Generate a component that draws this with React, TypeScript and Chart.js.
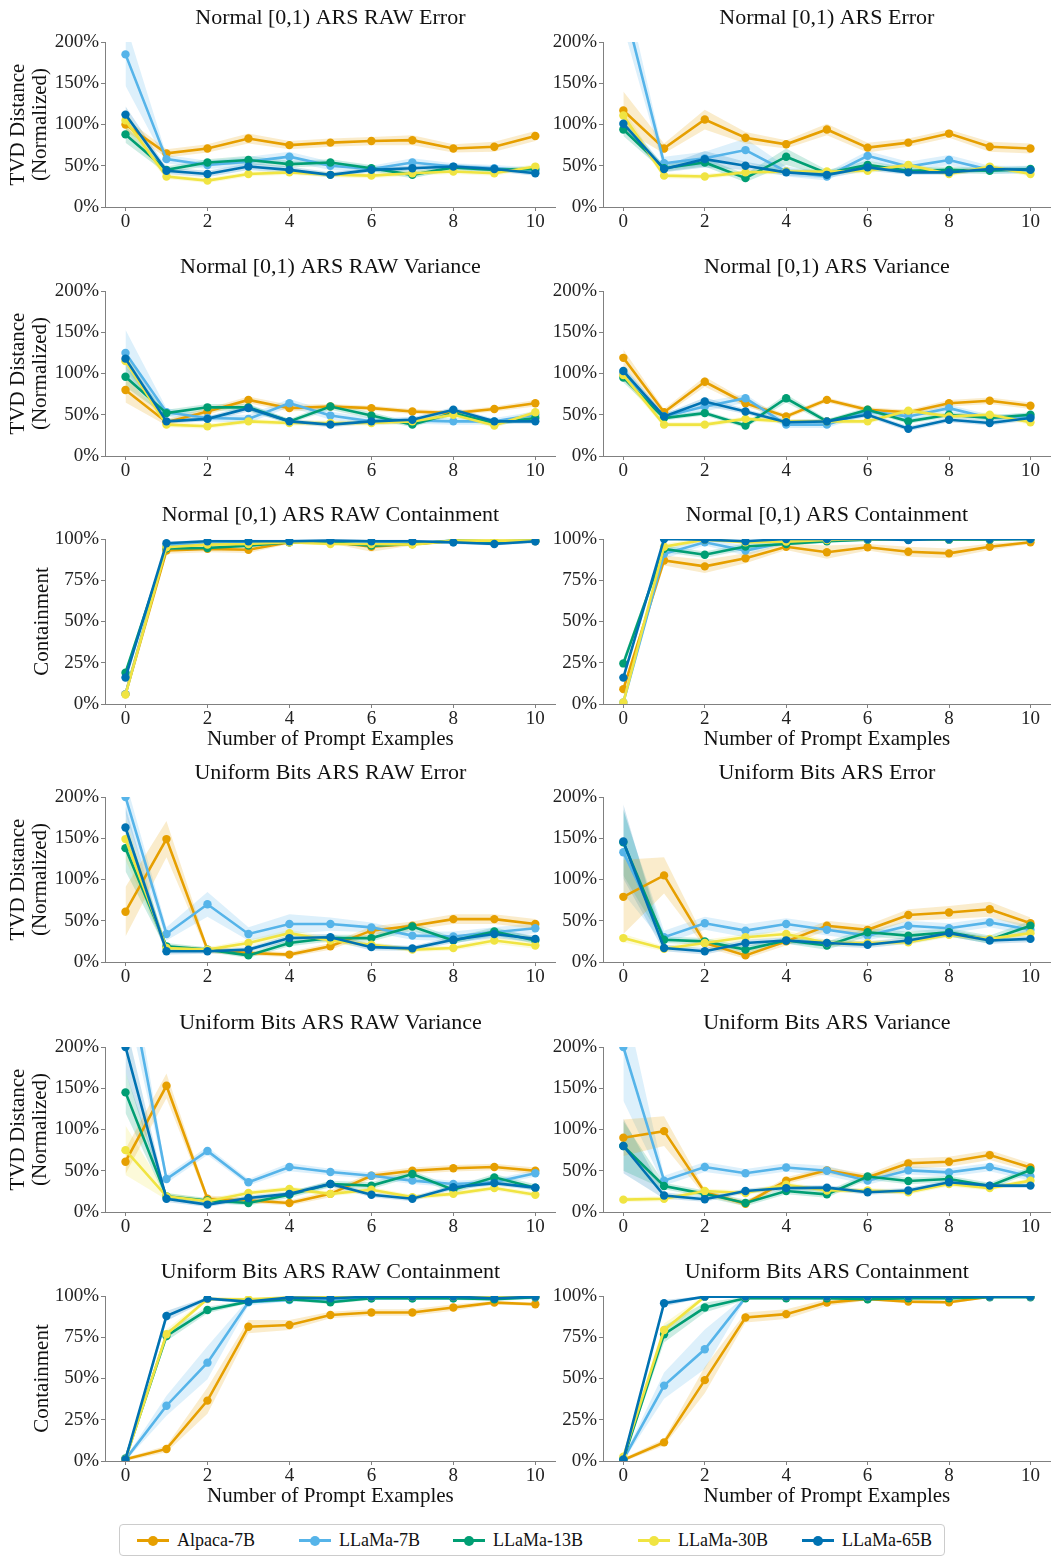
import React, { useEffect, useRef } from 'react';
import { Chart, registerables } from 'chart.js';
Chart.register(...registerables);

const SERIES = ['Alpaca-7B', 'LLaMa-7B', 'LLaMa-13B', 'LLaMa-30B', 'LLaMa-65B'];
const COLORS = ['#E69F00', '#56B4E9', '#009E73', '#F0E442', '#0072B2'];
const BANDS = ['rgba(230,159,0,0.2)', 'rgba(86,180,233,0.2)', 'rgba(0,158,115,0.2)', 'rgba(240,228,66,0.2)', 'rgba(0,114,178,0.2)'];
const X = [0, 1, 2, 3, 4, 5, 6, 7, 8, 9, 10];
const X_TICKS = [0, 2, 4, 6, 8, 10];
const TVD_TICKS = [0, 50, 100, 150, 200];
const CONT_TICKS = [0, 25, 50, 75, 100];

// series order in each table: Alpaca-7B, LLaMa-7B, LLaMa-13B, LLaMa-30B, LLaMa-65B
const normRawError = [
  [100, 65, 71, 83, 75, 78, 80, 81, 71, 73, 86],
  [185, 58, 51, 55, 61, 50, 46, 54, 49, 47, 44],
  [88, 45, 54, 57, 52, 54, 47, 39, 48, 45, 46],
  [105, 37, 32, 40, 42, 39, 38, 41, 43, 41, 49],
  [112, 44, 40, 49, 45, 39, 45, 47, 49, 46, 41],
];
const normRawErrorBand = [
  [8, 5, 5, 6, 5, 5, 5, 6, 5, 6, 6],
  [38, 5, 5, 6, 6, 5, 4, 5, 4, 4, 4],
  [10, 4, 4, 5, 4, 4, 4, 4, 3, 3, 3],
  [12, 3, 3, 3, 3, 3, 3, 3, 3, 3, 3],
  [10, 4, 4, 4, 4, 3, 3, 3, 3, 3, 3],
];
const normError = [
  [117, 71, 106, 84, 76, 94, 72, 78, 89, 73, 71],
  [248, 53, 59, 69, 43, 37, 62, 49, 57, 45, 45],
  [94, 47, 54, 35, 61, 41, 51, 44, 45, 44, 46],
  [111, 38, 37, 42, 43, 43, 44, 51, 40, 49, 40],
  [101, 46, 58, 50, 42, 39, 48, 42, 42, 46, 45],
];
const normErrorBand = [
  [23, 6, 12, 7, 5, 7, 6, 5, 5, 6, 6],
  [30, 8, 8, 14, 6, 5, 6, 6, 6, 5, 5],
  [8, 4, 5, 5, 10, 4, 5, 4, 4, 4, 4],
  [8, 3, 3, 3, 3, 3, 3, 3, 3, 3, 3],
  [8, 4, 10, 5, 4, 4, 4, 3, 3, 3, 3],
];
const normRawVariance = [
  [80, 41, 54, 68, 58, 60, 58, 54, 52, 57, 64],
  [125, 53, 46, 45, 64, 49, 42, 43, 42, 42, 50],
  [96, 52, 59, 59, 42, 60, 49, 38, 52, 40, 46],
  [115, 38, 36, 42, 40, 40, 40, 42, 50, 37, 53],
  [118, 42, 45, 58, 42, 38, 42, 44, 56, 42, 42],
];
const normRawVarianceBand = [
  [15, 4, 4, 4, 4, 3, 3, 3, 3, 3, 4],
  [28, 5, 4, 5, 5, 5, 4, 4, 4, 4, 4],
  [12, 4, 4, 4, 3, 4, 4, 3, 3, 3, 3],
  [10, 3, 3, 3, 3, 3, 3, 3, 3, 3, 3],
  [10, 3, 3, 4, 3, 3, 3, 3, 3, 3, 3],
];
const normVariance = [
  [119, 53, 90, 64, 48, 68, 56, 53, 64, 67, 61],
  [100, 48, 60, 70, 38, 38, 54, 48, 58, 46, 48],
  [95, 46, 52, 37, 70, 42, 56, 42, 50, 46, 50],
  [98, 38, 38, 45, 42, 42, 42, 55, 48, 50, 41],
  [103, 48, 66, 54, 41, 42, 50, 33, 44, 40, 46],
];
const normVarianceBand = [
  [10, 4, 6, 4, 3, 3, 3, 3, 4, 4, 4],
  [8, 4, 6, 5, 4, 4, 4, 4, 4, 4, 4],
  [6, 3, 3, 3, 5, 3, 3, 3, 3, 3, 3],
  [6, 3, 3, 3, 3, 3, 3, 3, 3, 3, 3],
  [6, 3, 5, 3, 3, 3, 3, 3, 3, 3, 3],
];
const normRawContainment = [
  [6, 93, 94, 93.5, 98, 98.4, 95.3, 97, 98.6, 98, 98.6],
  [6, 96, 97, 97.6, 98.6, 98.4, 98, 98, 98, 97.6, 98.6],
  [19, 94.3, 94.5, 96, 98, 98, 96, 97, 99, 98.4, 99],
  [5.7, 95, 96.6, 97, 98, 97, 97, 96.6, 99, 99, 99],
  [16, 97.4, 98.6, 98.6, 98.6, 99, 98.6, 98.6, 98, 97, 98.6],
];
const normRawContainmentBand = [
  [2, 2, 2, 2, 1, 1, 3, 1, 1, 1, 1],
  [2, 1, 1, 1, 1, 1, 1, 1, 1, 1, 1],
  [2, 1, 1, 1, 1, 1, 1, 1, 1, 1, 1],
  [2, 1, 1, 1, 1, 1, 1, 1, 1, 1, 1],
  [2, 1, 1, 1, 1, 1, 1, 1, 1, 1, 1],
];
const normContainment = [
  [9, 87, 83.4, 88.3, 95.3, 92, 95, 92.3, 91.3, 95.3, 98],
  [1, 91, 98, 93, 98, 99, 100, 99.6, 100, 100, 100],
  [24.6, 94, 90.5, 95.5, 97, 98.6, 99.6, 99.6, 99.6, 99.6, 100],
  [1, 95.3, 99.6, 98, 98.4, 99.4, 100, 99.6, 100, 100, 100],
  [16, 100, 99.6, 98.6, 100, 100, 100, 99.4, 100, 100, 100],
];
const normContainmentBand = [
  [3, 3, 4, 3, 2, 4, 2, 3, 3, 2, 1],
  [2, 3, 2, 3, 1, 1, 0.5, 0.5, 0.5, 0.5, 0.5],
  [3, 2, 2, 2, 1, 1, 0.5, 0.5, 0.5, 0.5, 0.5],
  [1, 2, 1, 1, 1, 1, 0.5, 0.5, 0.5, 0.5, 0.5],
  [2, 0.5, 0.5, 1, 0.5, 0.5, 0.5, 0.5, 0.5, 0.5, 0.5],
];
const ubRawError = [
  [61, 149, 15, 11, 9, 19, 38, 44, 52, 52, 46],
  [200, 34, 70, 34, 46, 46, 42, 32, 31, 36, 41],
  [138, 19, 15, 8, 23, 29, 29, 43, 26, 37, 26],
  [149, 17, 15, 23, 35, 26, 21, 15, 17, 26, 20],
  [163, 13, 13, 15, 29, 30, 18, 16.5, 27, 34, 28],
];
const ubRawErrorBand = [
  [30, 22, 4, 3, 3, 4, 5, 5, 6, 6, 6],
  [20, 8, 15, 8, 12, 8, 6, 5, 6, 6, 6],
  [28, 4, 3, 3, 4, 4, 4, 5, 4, 5, 4],
  [25, 4, 3, 4, 4, 4, 3, 3, 3, 4, 4],
  [25, 4, 3, 3, 4, 4, 4, 3, 4, 5, 4],
];
const ubError = [
  [79, 105, 23, 8, 25, 44, 39, 57, 60, 64, 47],
  [133, 30, 47, 38, 46, 39, 32, 44, 41, 48, 39],
  [145, 27, 25, 15, 26, 20, 36, 32, 36, 27, 44],
  [29, 16, 23, 30, 34, 23, 23, 24, 33, 28, 35],
  [146, 17, 13, 23, 26, 23, 21, 26, 35, 26, 28],
];
const ubErrorBand = [
  [45, 22, 5, 4, 5, 6, 6, 7, 8, 9, 7],
  [50, 8, 8, 8, 7, 7, 6, 6, 6, 6, 6],
  [40, 4, 4, 4, 4, 5, 5, 5, 5, 5, 6],
  [5, 3, 4, 4, 4, 4, 3, 3, 3, 3, 3],
  [45, 4, 4, 4, 4, 4, 4, 4, 4, 4, 4],
];
const ubRawVariance = [
  [61, 153, 16, 14, 11, 22, 44, 50, 53, 54.5, 50],
  [300, 40, 74, 36, 54.5, 48.5, 44, 38, 34, 36, 47],
  [145, 19, 14, 11, 21, 34, 32, 46, 27, 42, 29.5],
  [75, 19, 13, 23, 28, 22, 27, 18, 22, 29, 21],
  [200, 16, 9, 17, 22, 34, 21, 16, 30, 35, 29.5],
];
const ubRawVarianceBand = [
  [15, 15, 4, 3, 3, 4, 4, 4, 4, 4, 4],
  [40, 5, 5, 4, 5, 4, 4, 4, 4, 4, 4],
  [25, 4, 3, 3, 4, 4, 4, 4, 4, 4, 4],
  [30, 4, 3, 3, 3, 3, 3, 3, 3, 3, 3],
  [30, 4, 3, 3, 3, 3, 3, 3, 3, 3, 3],
];
const ubVariance = [
  [90, 98, 24, 10, 38, 50.5, 42, 59, 61, 69, 54],
  [200, 38, 54.5, 47, 54, 50, 38, 50.5, 48, 54.5, 43],
  [80, 31.5, 22, 11, 25.5, 21.4, 43, 37.6, 40, 31.5, 51],
  [15, 16, 25.5, 23, 33, 26, 26, 24, 34, 29, 38],
  [80, 20, 15.4, 25.5, 29, 29.5, 24, 26, 36, 32, 32],
];
const ubVarianceBand = [
  [22, 18, 4, 3, 4, 4, 4, 6, 6, 6, 5],
  [65, 6, 6, 5, 5, 6, 5, 5, 5, 5, 5],
  [30, 4, 4, 4, 4, 4, 4, 4, 4, 4, 4],
  [3, 3, 3, 3, 3, 3, 3, 3, 3, 3, 3],
  [33, 4, 3, 3, 3, 3, 3, 3, 3, 3, 3],
];
const ubRawContainment = [
  [1, 7.3, 36.6, 81.4, 82.4, 88.5, 90, 90, 93, 96, 95],
  [1, 33.5, 59.6, 96.2, 97.6, 98, 98.6, 98.6, 98.6, 98.6, 99.2],
  [1.6, 75.8, 91.5, 96.6, 98, 96.2, 98.6, 98.6, 98.6, 98, 99.2],
  [1, 76.8, 98.2, 98, 99, 99.6, 99.6, 99.6, 99.6, 99.6, 99.6],
  [1, 87.9, 98.4, 96.6, 99, 98.6, 99.6, 99.6, 99.6, 98.6, 99.6],
];
const ubRawContainmentBand = [
  [1, 2, 8, 4, 3, 2, 2, 2, 2, 1, 1],
  [1, 6, 10, 2, 1, 1, 1, 1, 1, 1, 1],
  [1, 3, 2, 1, 1, 1, 1, 1, 1, 1, 1],
  [1, 3, 1, 1, 1, 1, 1, 1, 1, 1, 1],
  [1, 3, 1, 1, 1, 1, 1, 1, 1, 1, 1],
];
const ubContainment = [
  [0.6, 11.3, 49, 87, 89, 96, 98.2, 96.6, 96.2, 99.6, 99.6],
  [1, 45.7, 67.7, 99, 99, 99, 99, 99, 99, 99.6, 99.6],
  [1, 76.8, 93, 98.6, 98.6, 98.6, 98, 98.6, 98.6, 99.2, 99.2],
  [2.6, 79.4, 99.6, 99.6, 99.6, 99.6, 99.6, 99.6, 99.6, 99.6, 99.6],
  [1, 95.6, 99.6, 99.6, 99.6, 99.6, 99.6, 99.6, 99.6, 99.6, 99.6],
];
const ubContainmentBand = [
  [1, 2, 8, 3, 3, 2, 1, 1, 1, 0.5, 0.5],
  [1, 8, 12, 1, 1, 1, 1, 1, 1, 0.5, 0.5],
  [1, 5, 3, 1, 1, 1, 1, 1, 1, 0.5, 0.5],
  [1, 4, 1, 0.5, 0.5, 0.5, 0.5, 0.5, 0.5, 0.5, 0.5],
  [1, 2, 0.5, 0.5, 0.5, 0.5, 0.5, 0.5, 0.5, 0.5, 0.5],
];

const TITLES = [
  ['Normal [0,1) ARS RAW Error', 'Normal [0,1) ARS Error'],
  ['Normal [0,1) ARS RAW Variance', 'Normal [0,1) ARS Variance'],
  ['Normal [0,1) ARS RAW Containment', 'Normal [0,1) ARS Containment'],
  ['Uniform Bits ARS RAW Error', 'Uniform Bits ARS Error'],
  ['Uniform Bits ARS RAW Variance', 'Uniform Bits ARS Variance'],
  ['Uniform Bits ARS RAW Containment', 'Uniform Bits ARS Containment'],
];
const MEANS = [
  [normRawError, normError],
  [normRawVariance, normVariance],
  [normRawContainment, normContainment],
  [ubRawError, ubError],
  [ubRawVariance, ubVariance],
  [ubRawContainment, ubContainment],
];
const ERRS = [
  [normRawErrorBand, normErrorBand],
  [normRawVarianceBand, normVarianceBand],
  [normRawContainmentBand, normContainmentBand],
  [ubRawErrorBand, ubErrorBand],
  [ubRawVarianceBand, ubVarianceBand],
  [ubRawContainmentBand, ubContainmentBand],
];
const IS_CONTAINMENT = [false, false, true, false, false, true];
const HAS_XTITLE = [false, false, true, false, false, true];
const Y_TITLE_TVD = ['TVD Distance', '(Normalized)'];
const Y_TITLE_CONT = 'Containment';
const X_TITLE = 'Number of Prompt Examples';

const FONT = "'Liberation Serif', 'Times New Roman', serif";
const CHART_TOPS = [42, 291, 539, 797, 1047, 1296];
const PLOT_H = 165;
const TOP_BLOCK = 41;
const AXIS_COLOR = '#808080';

type PanelProps = { row: number; col: number };

function Panel({ row, col }: PanelProps) {
  const ref = useRef<HTMLCanvasElement | null>(null);
  const left = col === 0 ? 0 : 545;
  const width = col === 0 ? 560 : 510;
  const yW = col === 0 ? 105 : 58;
  const padRight = col === 0 ? 3 : 0;
  const xH = HAS_XTITLE[row] ? 52 : 36;
  const top = CHART_TOPS[row] - TOP_BLOCK;
  const height = TOP_BLOCK + PLOT_H + xH;

  useEffect(() => {
    const canvas = ref.current;
    if (!canvas) return;
    const means = MEANS[row][col];
    const errs = ERRS[row][col];
    const cont = IS_CONTAINMENT[row];
    const datasets: any[] = [];
    means.forEach((m, i) => {
      const e = errs[i];
      datasets.push({
        label: SERIES[i] + ' lo',
        data: X.map((x, j) => ({ x, y: m[j] - e[j] })),
        borderColor: 'rgba(0,0,0,0)',
        borderWidth: 1,
        pointRadius: 0,
        fill: false,
        order: 20,
      });
      datasets.push({
        label: SERIES[i] + ' hi',
        data: X.map((x, j) => ({ x, y: m[j] + e[j] })),
        borderColor: 'rgba(0,0,0,0)',
        borderWidth: 1,
        pointRadius: 0,
        fill: '-1',
        backgroundColor: BANDS[i],
        order: 20,
      });
    });
    means.forEach((m, i) => {
      datasets.push({
        label: SERIES[i],
        data: X.map((x, j) => ({ x, y: m[j] })),
        borderColor: COLORS[i],
        backgroundColor: COLORS[i],
        pointBackgroundColor: COLORS[i],
        pointBorderWidth: 0,
        pointRadius: 4.2,
        borderWidth: 2.6,
        tension: 0,
        fill: false,
        order: 5 - i,
      });
    });

    const yTicks = cont ? CONT_TICKS : TVD_TICKS;
    const yTitle: any =
      col === 0
        ? {
            display: true,
            text: cont ? Y_TITLE_CONT : Y_TITLE_TVD,
            font: { family: FONT, size: 21, lineHeight: 1.05 },
            color: '#111',
            padding: { top: cont ? 31 : 7, bottom: 0 },
          }
        : { display: false };

    const chart = new Chart(canvas, {
      type: 'line',
      data: { datasets },
      options: {
        animation: false,
        responsive: false,
        devicePixelRatio: 1,
        layout: { padding: { left: 0, right: padRight, top: 0, bottom: 0 } },
        plugins: {
          legend: { display: false },
          tooltip: { enabled: false },
          title: {
            display: true,
            text: TITLES[row][col],
            fullSize: false,
            color: '#111',
            font: { family: FONT, size: 22, weight: 'normal', lineHeight: 1.2 },
            padding: { top: 3.8, bottom: 10.8 },
          },
        },
        scales: {
          x: {
            type: 'linear',
            min: -0.5,
            max: 10.5,
            afterBuildTicks: (s: any) => {
              s.ticks = X_TICKS.map((v) => ({ value: v }));
            },
            afterFit: (s: any) => {
              s.height = xH;
            },
            grid: { display: true, drawOnChartArea: false, drawTicks: true, tickLength: 4, color: AXIS_COLOR },
            border: { display: true, color: AXIS_COLOR, width: 1 },
            ticks: {
              font: { family: FONT, size: 19, lineHeight: 1 },
              color: '#222',
              padding: 2,
              maxRotation: 0,
              autoSkip: false,
              callback: (v: any) => String(v),
            },
            title: HAS_XTITLE[row]
              ? {
                  display: true,
                  text: X_TITLE,
                  font: { family: FONT, size: 21, lineHeight: 1.2 },
                  color: '#111',
                  padding: { top: 0, bottom: 4.4 },
                }
              : { display: false },
          },
          y: {
            type: 'linear',
            min: 0,
            max: cont ? 100 : 200,
            afterBuildTicks: (s: any) => {
              s.ticks = yTicks.map((v) => ({ value: v }));
            },
            afterFit: (s: any) => {
              s.width = yW;
            },
            grid: { display: true, drawOnChartArea: false, drawTicks: true, tickLength: 4, color: AXIS_COLOR },
            border: { display: true, color: AXIS_COLOR, width: 1 },
            ticks: {
              font: { family: FONT, size: 19, lineHeight: 1 },
              color: '#222',
              padding: 2,
              autoSkip: false,
              callback: (v: any) => v + '%',
            },
            title: yTitle,
          },
        },
      } as any,
    });
    return () => chart.destroy();
  }, [row, col]);

  return (
    <canvas
      ref={ref}
      width={width}
      height={height}
      style={{ position: 'absolute', left, top, width, height }}
    />
  );
}

const LEGEND_TEXT_X = [176, 338, 492, 677, 841];

function Legend() {
  return (
    <div
      style={{
        position: 'absolute',
        left: 119,
        top: 1524,
        width: 826,
        height: 32,
        border: '1px solid #cccccc',
        borderRadius: 4,
        boxSizing: 'border-box',
        background: '#fff',
        fontFamily: FONT,
        fontSize: 18,
        color: '#111',
      }}
    >
      {SERIES.map((s, i) => {
        const tx = LEGEND_TEXT_X[i] - 119;
        return (
          <React.Fragment key={s}>
            <div
              style={{
                position: 'absolute',
                left: tx - 40,
                top: 14,
                width: 32,
                height: 3,
                background: COLORS[i],
              }}
            />
            <div
              style={{
                position: 'absolute',
                left: tx - 29,
                top: 10.5,
                width: 10,
                height: 10,
                borderRadius: 5,
                background: COLORS[i],
              }}
            />
            <div
              style={{
                position: 'absolute',
                left: tx,
                top: 4,
                lineHeight: '22px',
                whiteSpace: 'nowrap',
              }}
            >
              {s}
            </div>
          </React.Fragment>
        );
      })}
    </div>
  );
}

export default function App() {
  const panels: { row: number; col: number }[] = [];
  for (let r = 0; r < 6; r++) for (let c = 0; c < 2; c++) panels.push({ row: r, col: c });
  return (
    <div
      style={{
        position: 'absolute',
        left: 0,
        top: 0,
        width: 1055,
        height: 1556,
        background: '#fff',
        overflow: 'hidden',
      }}
    >
      {panels.map((p) => (
        <Panel key={`${p.row}-${p.col}`} row={p.row} col={p.col} />
      ))}
      <Legend />
    </div>
  );
}
